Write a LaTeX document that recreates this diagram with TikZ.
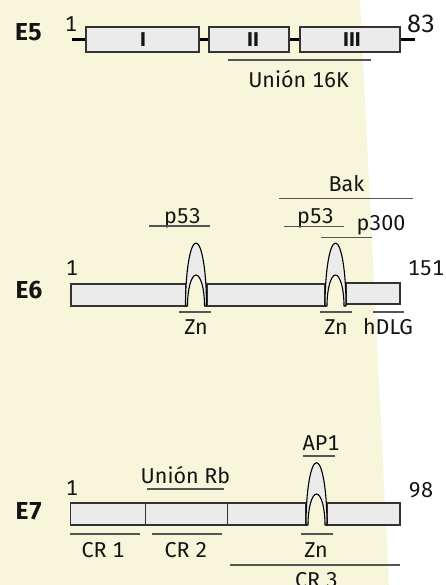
\documentclass[tikz,border=0pt]{standalone}
\usepackage{fontspec}
\setmainfont[Numbers=Monospaced]{Fira Sans}
\definecolor{bgyellow}{RGB}{247,245,218}
\definecolor{boxfill}{RGB}{235,235,235}
\definecolor{boxline}{RGB}{51,51,51}
\definecolor{annot}{RGB}{85,85,85}
\definecolor{txt}{RGB}{20,20,20}
\begin{document}
\begin{tikzpicture}[x=1pt,y=-1pt,
  lbl/.style={font={\fontsize{21.5}{24}\selectfont}, inner sep=0pt, anchor=base, text=txt},
  elbl/.style={font={\fontsize{24.5}{27}\selectfont\bfseries}, inner sep=0pt, anchor=base, text=txt},
  rlbl/.style={font={\fontsize{20}{22}\selectfont\bfseries}, inner sep=0pt, anchor=center, text=txt},
  domainbox/.style={draw=boxline, fill=boxfill, line width=1.2pt},
  annotline/.style={draw=annot, line width=1.3pt},
  zinc/.style={draw=black, fill=boxfill, line width=1.1pt, line join=round}
]
\path[use as bounding box] (0,0) rectangle (446,585);
\clip (0,0) rectangle (446,585);
\fill[bgyellow] (0,0) -- (360,0) -- (389,585) -- (0,585) -- cycle;

% ---------------- E5 ----------------
\node[elbl] (e5) at (28.5,40.5) {E5};
\node[lbl] (e5s) at (71,32) {1};
\node[lbl, font={\fontsize{25}{27}\selectfont}] (e5e) at (421,32.5) {83};
\draw[line width=3pt] (72,39.3) -- (415,39.3);
\draw[domainbox] (86,27) rectangle (199,52);
\draw[domainbox] (209,27) rectangle (289,52);
\draw[domainbox] (300,27) rectangle (400,52);
\node[rlbl] (r1) at (143,40) {I};
\node[rlbl] (r2) at (253,40) {II};
\node[rlbl] (r3) at (352,40) {III};
\draw[annotline] (228,60) -- (371,60);
\node[lbl] (u16) at (298.5,88) {Unión 16K};

% ---------------- E6 ----------------
\node[lbl] (bak) at (346.5,191) {Bak};
\draw[annotline] (279,198.5) -- (413,198.5);
\node[lbl] (p53a) at (182.5,223) {p53};
\draw[annotline] (149,226) -- (210,226);
\node[lbl] (p53b) at (315.5,223) {p53};
\draw[annotline] (284,226.7) -- (344,226.7);
\node[lbl] (p300) at (381,230) {p300};
\draw[annotline] (321,237.7) -- (372,237.7);
\node[lbl] (e6s) at (72,275) {1};
\node[lbl] (e6e) at (426,275) {151};
\node[elbl] (e6) at (29,298) {E6};
\draw[domainbox] (71,284) rectangle (186,306);
\draw[domainbox] (207,284) rectangle (325,306);
\draw[domainbox] (346,283) rectangle (400,304);
\path[zinc] (185.5,306) arc[start angle=180,end angle=0,x radius=10.5pt,y radius=63pt]
  -- (204.5,306) arc[start angle=0,end angle=180,x radius=8.5pt,y radius=31pt] -- cycle;
\path[zinc] (325,306) arc[start angle=180,end angle=0,x radius=10.5pt,y radius=63pt]
  -- (344,306) arc[start angle=0,end angle=180,x radius=8.5pt,y radius=31pt] -- cycle;
\draw[annotline] (179,312) -- (211,312);
\draw[annotline] (320,312) -- (352,312);
\draw[annotline] (373,312) -- (404,312);
\node[lbl] (zn1) at (196,334) {Zn};
\node[lbl] (zn2) at (336,334) {Zn};
\node[lbl] (hdlg) at (388,334) {hDLG};

% ---------------- E7 ----------------
\node[lbl] (ap1) at (321,450) {AP1};
\draw[annotline] (303,456) -- (335,456);
\node[lbl] (urb) at (185.5,483) {Unión Rb};
\draw[annotline] (147,489) -- (224,489);
\node[lbl] (e7s) at (72,495) {1};
\node[lbl] (e7e) at (421,497) {98};
\node[elbl] (e7) at (29,519) {E7};
\draw[domainbox] (70.7,503) rectangle (145.7,525);
\draw[domainbox] (145.7,503) rectangle (227.3,525);
\draw[domainbox] (227.3,503) rectangle (306,525);
\draw[domainbox] (327,503) rectangle (400,525);
\path[zinc] (306,525) arc[start angle=180,end angle=0,x radius=10.5pt,y radius=62.3pt]
  -- (325,525) arc[start angle=0,end angle=180,x radius=8.5pt,y radius=31pt] -- cycle;
\draw[annotline] (70,534) -- (140,534);
\draw[annotline] (152,534) -- (222,534);
\draw[annotline] (301,534) -- (333,534);
\node[lbl] (cr1) at (103,557) {CR 1};
\node[lbl] (cr2) at (186,557) {CR 2};
\node[lbl] (zn3) at (316,557) {Zn};
\draw[annotline] (230,565) -- (400,565);
\node[lbl] (cr3) at (316.5,587) {CR 3};
\end{tikzpicture}
\end{document}
